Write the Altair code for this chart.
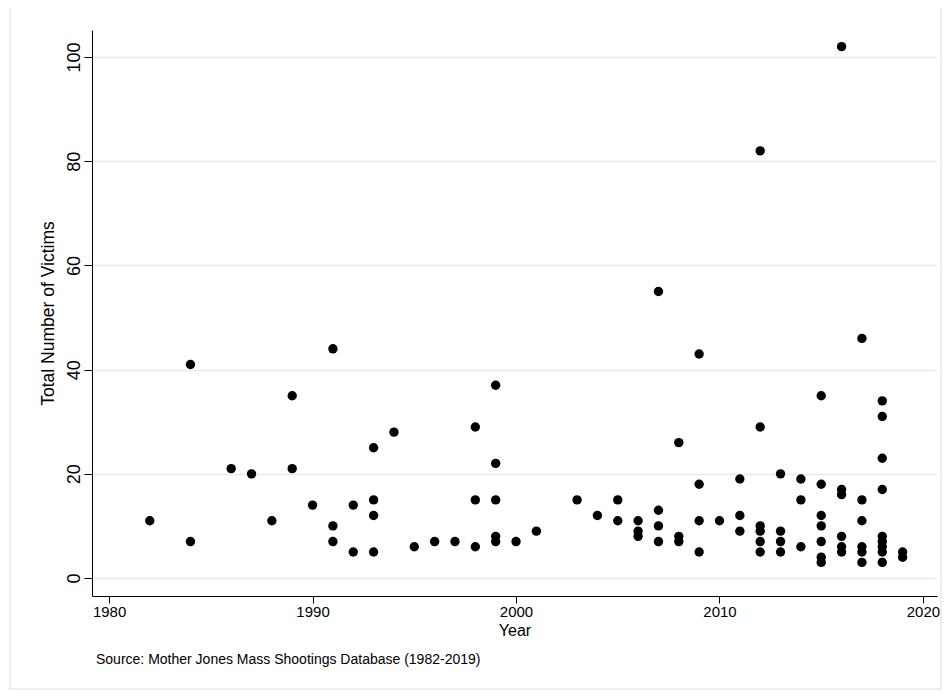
import altair as alt
import pandas as pd

# ---- data ----
year = [
    1982,
    1984, 1984,
    1986,
    1987,
    1988,
    1989, 1989,
    1990,
    1991, 1991, 1991,
    1992, 1992,
    1993, 1993, 1993, 1993,
    1994,
    1995,
    1996,
    1997,
    1998, 1998, 1998,
    1999, 1999, 1999, 1999, 1999,
    2000,
    2001,
    2003,
    2004,
    2005, 2005,
    2006, 2006, 2006,
    2007, 2007, 2007, 2007,
    2008, 2008, 2008,
    2009, 2009, 2009, 2009,
    2010,
    2011, 2011, 2011,
    2012, 2012, 2012, 2012, 2012, 2012,
    2013, 2013, 2013, 2013,
    2014, 2014, 2014,
    2015, 2015, 2015, 2015, 2015, 2015, 2015,
    2016, 2016, 2016, 2016, 2016, 2016,
    2017, 2017, 2017, 2017, 2017, 2017,
    2018, 2018, 2018, 2018, 2018, 2018, 2018, 2018, 2018,
    2019, 2019,
]
victims = [
    11,
    41, 7,
    21,
    20,
    11,
    35, 21,
    14,
    44, 10, 7,
    14, 5,
    25, 15, 12, 5,
    28,
    6,
    7,
    7,
    29, 15, 6,
    37, 22, 15, 8, 7,
    7,
    9,
    15,
    12,
    15, 11,
    11, 9, 8,
    55, 13, 10, 7,
    26, 8, 7,
    43, 18, 11, 5,
    11,
    19, 12, 9,
    82, 29, 10, 9, 7, 5,
    20, 9, 7, 5,
    19, 15, 6,
    35, 18, 12, 10, 7, 4, 3,
    102, 17, 16, 8, 6, 5,
    46, 15, 11, 6, 5, 3,
    34, 31, 23, 17, 8, 7, 6, 5, 3,
    5, 4,
]
x_ticks = [1980, 1990, 2000, 2010, 2020]
y_ticks = [0, 20, 40, 60, 80, 100]
x_title = "Year"
y_title = "Total Number of Victims"
source_note = "Source: Mother Jones Mass Shootings Database (1982-2019)"

df = pd.DataFrame({"Year": year, "Victims": victims})

W, H = 845, 566
FONT = "Liberation Sans"

frame = alt.Chart(pd.DataFrame({"k": [0]})).mark_rect(
    fillOpacity=0, stroke="#E3EAEA", strokeWidth=1.5
).encode(
    x=alt.value(-82), x2=alt.value(849), y=alt.value(-23), y2=alt.value(659)
)

points = alt.Chart(df).mark_circle(size=88, color="black", opacity=1).encode(
    x=alt.X(
        "Year:Q",
        scale=alt.Scale(domain=[1979.16, 2020.69], nice=False, zero=False),
        axis=alt.Axis(
            values=x_ticks, format="d", title=x_title, grid=False,
            tickSize=7, labelPadding=1, labelFontSize=15, titleFontSize=16,
            titleY=34, titleBaseline="middle",
        ),
    ),
    y=alt.Y(
        "Victims:Q",
        scale=alt.Scale(domain=[-3.45, 105.2], nice=False, zero=False),
        axis=alt.Axis(
            values=y_ticks, title=y_title, grid=True, gridColor="#E3EDEF",
            gridWidth=1.3, labelAngle=270, labelAlign="center",
            labelBaseline="alphabetic", tickSize=8, labelPadding=5,
            labelFontSize=18, titleFontSize=17.5, titleAngle=270,
            titleX=-39, titleY=H / 2, titleAlign="center",
            titleBaseline="alphabetic",
        ),
    ),
)

note = alt.Chart(pd.DataFrame({"k": [0]})).mark_text(
    text=source_note, align="left", baseline="middle", fontSize=14,
    font=FONT, color="black"
).encode(x=alt.value(4), y=alt.value(630))

chart = alt.layer(frame, points, note).properties(
    width=W, height=H,
    autosize=alt.AutoSizeParams(type="none"),
    padding={"left": 84, "top": 22, "right": 6, "bottom": 94},
    background="white",
).configure_view(stroke=None).configure_axis(
    domainColor="black", tickColor="black", labelColor="black",
    titleColor="black", labelFont=FONT, titleFont=FONT,
    titleFontWeight="normal", domainWidth=1, tickWidth=1,
)

chart.save("out.html", embed_options={"renderer": "svg", "actions": False})
